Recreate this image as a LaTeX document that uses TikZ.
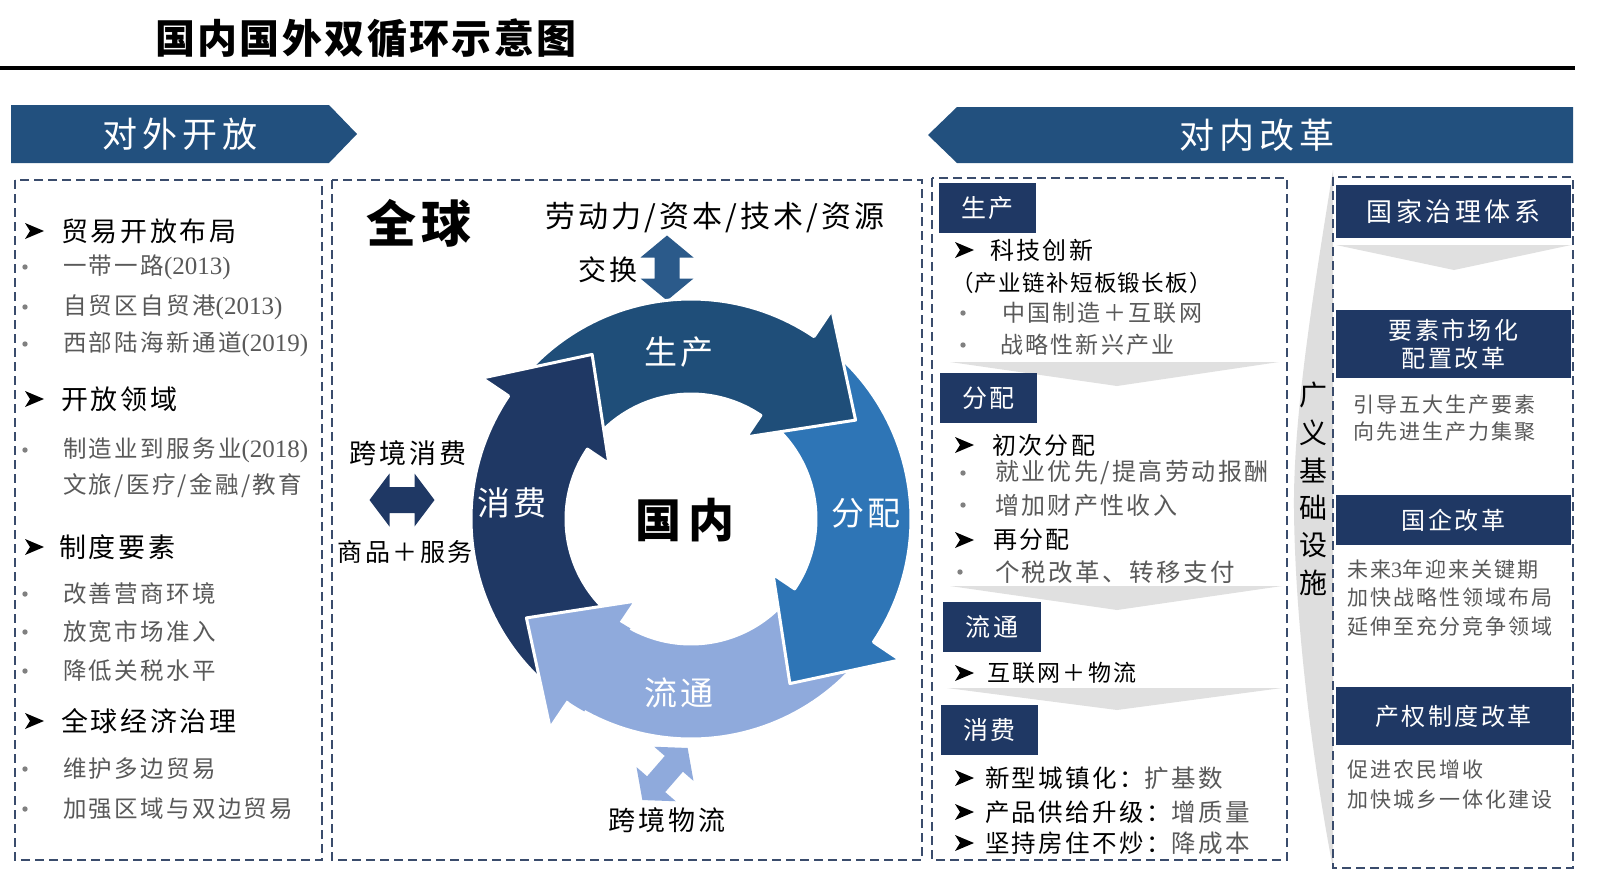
\documentclass[tikz,border=0pt]{standalone}
\usepackage{fontspec}
\setmainfont{Liberation Serif}
\newfontfamily\cjk{Noto Sans CJK SC}[LetterSpace=10]
\newfontfamily\cjkw{Noto Sans CJK SC}[LetterSpace=14]
\newfontfamily\cjkt{Noto Sans CJK SC}[LetterSpace=6]
\definecolor{banner}{HTML}{22507E}
\definecolor{navy}{HTML}{1F3864}
\definecolor{cA}{HTML}{1F4E79}
\definecolor{cB}{HTML}{2E75B6}
\definecolor{cC}{HTML}{8FAADC}
\definecolor{cD}{HTML}{1F3864}
\definecolor{vertc}{HTML}{2B5A8A}
\definecolor{dashc}{HTML}{3A4C6C}
\definecolor{txtgray}{HTML}{595959}
\definecolor{bulgray}{HTML}{808080}
\definecolor{sepgray}{HTML}{E0E0E0}
\definecolor{wedgec}{HTML}{DEDEDE}
\newcommand\fsz[1]{\fontsize{#1}{#1}\selectfont}
\newcommand\nm[1]{{\rmfamily\fontsize{25}{25}\selectfont #1}}
% ring arrow: colour, tail angle, base angle, tip angle (page angles, clockwise)
\newcommand\ringarr[4]{\filldraw[fill=#1, draw=white, line width=3pt, line join=round]
  plot[domain=#2:#3, samples=50] (\x:220) -- (#3:252) -- (#4:192) -- (#3:99) -- (#3:125)
  -- plot[domain=#3:#2, samples=50] (\x:125) -- cycle;}
% double arrow: colour, cx, cy, rotation, length, head width, shaft width, head length
\newcommand\dblarr[8]{\begin{scope}[shift={(#2,#3)}, rotate=#4]
  \fill[#1] ({-#5/2},0) -- ({-#5/2+#8},{#6/2}) -- ({-#5/2+#8},{#7/2}) -- ({#5/2-#8},{#7/2})
  -- ({#5/2-#8},{#6/2}) -- ({#5/2},0) -- ({#5/2-#8},{-#6/2}) -- ({#5/2-#8},{-#7/2})
  -- ({-#5/2+#8},{-#7/2}) -- ({-#5/2+#8},{-#6/2}) -- cycle;
  \end{scope}}
\tikzset{harr/.pic={\fill[black] (0,-8) -- (19,0) -- (0,8) -- (5,0) -- cycle;}}
\begin{document}
\begin{tikzpicture}[x=1pt,y=-1pt,
  every node/.style={inner sep=0pt, outer sep=0pt},
  dbox/.style={draw=dashc, line width=2pt, dash pattern=on 9pt off 5pt},
  hd/.style={anchor=west, text=black, font=\cjk\fsz{27}},
  bt/.style={anchor=west, text=txtgray, font=\cjk\fsz{23.5}},
  mh/.style={anchor=west, text=black, font=\cjk\fsz{24}},
  mb/.style={anchor=west, text=txtgray, font=\cjk\fsz{23}},
  rb/.style={anchor=west, text=txtgray, font=\cjk\fsz{21}},
  lab/.style={text=black, font=\cjk\fsz{27}},
  ringlab/.style={text=white, font=\cjk\fsz{33}},
  tag/.style={fill=navy, text=white, font=\cjk\fsz{25}},
  rtag/.style={fill=navy, text=white, font=\cjk\fsz{24}, minimum width=235pt},
  bannertxt/.style={text=white, font=\cjkw\fsz{35}},
  vt/.style={text=black, font=\cjk\fsz{28}}
]
\useasboundingbox (0,0) rectangle (1610,884);
\fill[white] (0,0) rectangle (1610,884);

% title and rule
\node[anchor=west, font=\cjkt\bfseries\fsz{40}] (title) at (155,38) {国内国外双循环示意图};
\draw[line width=3.5pt] (0,68) -- (1575,68);

% banners
\fill[banner] (11,105) -- (329,105) -- (357,134) -- (329,163) -- (11,163) -- cycle;
\node[bannertxt] (bl) at (180,134) {对外开放};
\fill[banner] (928,135) -- (957,107) -- (1573,107) -- (1573,163) -- (957,163) -- cycle;
\node[bannertxt] (br) at (1257,135) {对内改革};

% wedge behind infrastructure text
\fill[wedgec] (1333,170) .. controls (1312,300) and (1293,420) .. (1294,510)
  .. controls (1295,620) and (1312,760) .. (1333,868) -- cycle;

% dashed boxes
\draw[dbox] (15,180) rectangle (322,860);
\draw[dbox] (332,180) rectangle (922,860);
\draw[dbox] (932,178) rectangle (1287,860);
\draw[dbox] (1333,177) rectangle (1573,868);

% ---------- left box ----------
\pic at (25,231) {harr};
\node[hd] (l1) at (61,231) {贸易开放布局};
\fill[bulgray] (25,267) circle (2.7);
\node[bt] (l2) at (63,267) {一带一路\nm{(2013)}};
\fill[bulgray] (25,307) circle (2.7);
\node[bt] (l3) at (63,307) {自贸区自贸港\nm{(2013)}};
\fill[bulgray] (25,344) circle (2.7);
\node[bt] (l4) at (63,344) {西部陆海新通道\nm{(2019)}};
\pic at (25,399) {harr};
\node[hd] (l5) at (61,399) {开放领域};
\fill[bulgray] (25,450) circle (2.7);
\node[bt] (l6) at (63,450) {制造业到服务业\nm{(2018)}};
\node[bt] (l7) at (63,486) {文旅/医疗/金融/教育};
\pic at (25,547) {harr};
\node[hd] (l8) at (59,547) {制度要素};
\fill[bulgray] (25,594) circle (2.7);
\node[bt] (l9) at (63,594) {改善营商环境};
\fill[bulgray] (25,632) circle (2.7);
\node[bt] (l10) at (63,632) {放宽市场准入};
\fill[bulgray] (25,671) circle (2.7);
\node[bt] (l11) at (63,671) {降低关税水平};
\pic at (25,721) {harr};
\node[hd] (l12) at (61,721) {全球经济治理};
\fill[bulgray] (25,769) circle (2.7);
\node[bt] (l13) at (63,769) {维护多边贸易};
\fill[bulgray] (25,809) circle (2.7);
\node[bt] (l14) at (63,809) {加强区域与双边贸易};

% ---------- middle box ----------
\node[text=black, font=\cjk\bfseries\fsz{50}] (global) at (419,223) {全球};
\node[lab, font=\cjk\fsz{30}] (flow) at (715,218) {劳动力/资本/技术/资源};
\node[lab, font=\cjk\fsz{28}] (swap) at (608,270) {交换};
\dblarr{vertc}{667}{268}{90}{65}{53}{25}{22}
\node[lab] (kjxf) at (408,453) {跨境消费};
\dblarr{navy}{402}{500}{0}{65}{53}{26}{20}
\node[lab, font=\cjk\fsz{25}] (spfw) at (405,552) {商品＋服务};
\dblarr{cC}{665}{774}{49}{69}{52}{24}{21}
\node[lab] (kjwl) at (667,820) {跨境物流};

\begin{scope}[shift={(691,519)}]
  \ringarr{cC}{34}{124}{149}
  \ringarr{cB}{-56}{34}{59}
  \ringarr{cA}{-146}{-56}{-31}
  \ringarr{cD}{124}{214}{239}
  \fill[cC] plot[domain=119:124, samples=8] (\x:220) -- (124:252) -- (149:192) -- (124:99) -- (124:125)
    -- plot[domain=124:119, samples=8] (\x:125) -- cycle;
  \draw[white, line width=3pt, line join=round] (124:220) -- (124:252) -- (149:192) -- (124:99) -- (124:125);
\end{scope}
\node[ringlab] (rsc) at (679,352) {生产};
\node[ringlab] (rfp) at (866,513) {分配};
\node[ringlab] (rlt) at (679,693) {流通};
\node[ringlab] (rxf) at (512,503) {消费};
\node[text=black, font=\cjkw\bfseries\fsz{46}] (gn) at (685,520) {国内};

% ---------- middle-right box ----------
\node[tag, minimum width=97pt, minimum height=50pt] (t1) at (987.5,208) {生产};
\pic at (955,250) {harr};
\node[mh] (m1) at (990,250) {科技创新};
\node[mh, font=\cjkt\fsz{22.5}] (m2) at (951,283) {（产业链补短板锻长板）};
\fill[bulgray] (963,313) circle (2.7);
\node[mb] (m3) at (1002,313) {中国制造＋互联网};
\fill[bulgray] (963,345) circle (2.7);
\node[mb] (m4) at (1000,345) {战略性新兴产业};
\fill[sepgray] (950,362) -- (1279,362) -- (1117,386) -- cycle;

\node[tag, minimum width=97pt, minimum height=50pt] (t2) at (988.5,398) {分配};
\pic at (955,445) {harr};
\node[mh] (m5) at (992,445) {初次分配};
\fill[bulgray] (963,473) circle (2.7);
\node[mb, font=\cjk\fsz{24}] (m6) at (995,473) {就业优先/提高劳动报酬};
\fill[bulgray] (963,505) circle (2.7);
\node[mb, font=\cjk\fsz{24}] (m7) at (995,505) {增加财产性收入};
\pic at (955,540) {harr};
\node[mh] (m8) at (993,540) {再分配};
\fill[bulgray] (960,572) circle (2.7);
\node[mb, font=\cjk\fsz{24.5}] (m9) at (995,572) {个税改革、转移支付};
\fill[sepgray] (950,586) -- (1282,586) -- (1117,610) -- cycle;

\node[tag, minimum width=98pt, minimum height=50pt] (t3) at (992,627) {流通};
\pic at (955,673) {harr};
\node[mh, font=\cjk\fsz{23}] (m10) at (987,673) {互联网＋物流};
\fill[sepgray] (947,688) -- (1282,688) -- (1117,710) -- cycle;

\node[tag, minimum width=97pt, minimum height=50pt] (t4) at (989.5,730) {消费};
\pic at (955,778) {harr};
\node[mh, font=\cjk\fsz{24.5}] (m11) at (985,778) {新型城镇化：\color{txtgray}扩基数};
\pic at (955,812) {harr};
\node[mh, font=\cjk\fsz{24.5}] (m12) at (985,812) {产品供给升级：\color{txtgray}增质量};
\pic at (955,843) {harr};
\node[mh, font=\cjk\fsz{24.5}] (m13) at (985,843) {坚持房住不炒：\color{txtgray}降成本};

% ---------- infrastructure vertical text ----------
\node[vt] (v1) at (1313,395) {广};
\node[vt] (v2) at (1313,433) {义};
\node[vt] (v3) at (1313,470) {基};
\node[vt] (v4) at (1313,508) {础};
\node[vt] (v5) at (1313,545) {设};
\node[vt] (v6) at (1313,583) {施};

% ---------- right box ----------
\node[rtag, minimum height=53pt, font=\cjkw\fsz{26}] (r1) at (1453.5,211.5) {国家治理体系};
\fill[sepgray] (1336,245) -- (1571,245) -- (1454,270) -- cycle;
\node[rtag, minimum height=68pt, align=center] (r2) at (1453.5,344) {要素市场化\\[4pt]配置改革};
\node[rb] (r3) at (1353,405) {引导五大生产要素};
\node[rb] (r4) at (1353,432) {向先进生产力集聚};
\node[rtag, minimum height=50pt] (r5) at (1453.5,520) {国企改革};
\node[rb] (r6) at (1347,570) {未来{\rmfamily\fontsize{22}{22}\selectfont 3}年迎来关键期};
\node[rb] (r7) at (1347,598) {加快战略性领域布局};
\node[rb] (r8) at (1347,627) {延伸至充分竞争领域};
\node[rtag, minimum height=58pt] (r9) at (1453.5,716) {产权制度改革};
\node[rb] (r10) at (1347,770) {促进农民增收};
\node[rb] (r11) at (1347,800) {加快城乡一体化建设};
\end{tikzpicture}
\end{document}
